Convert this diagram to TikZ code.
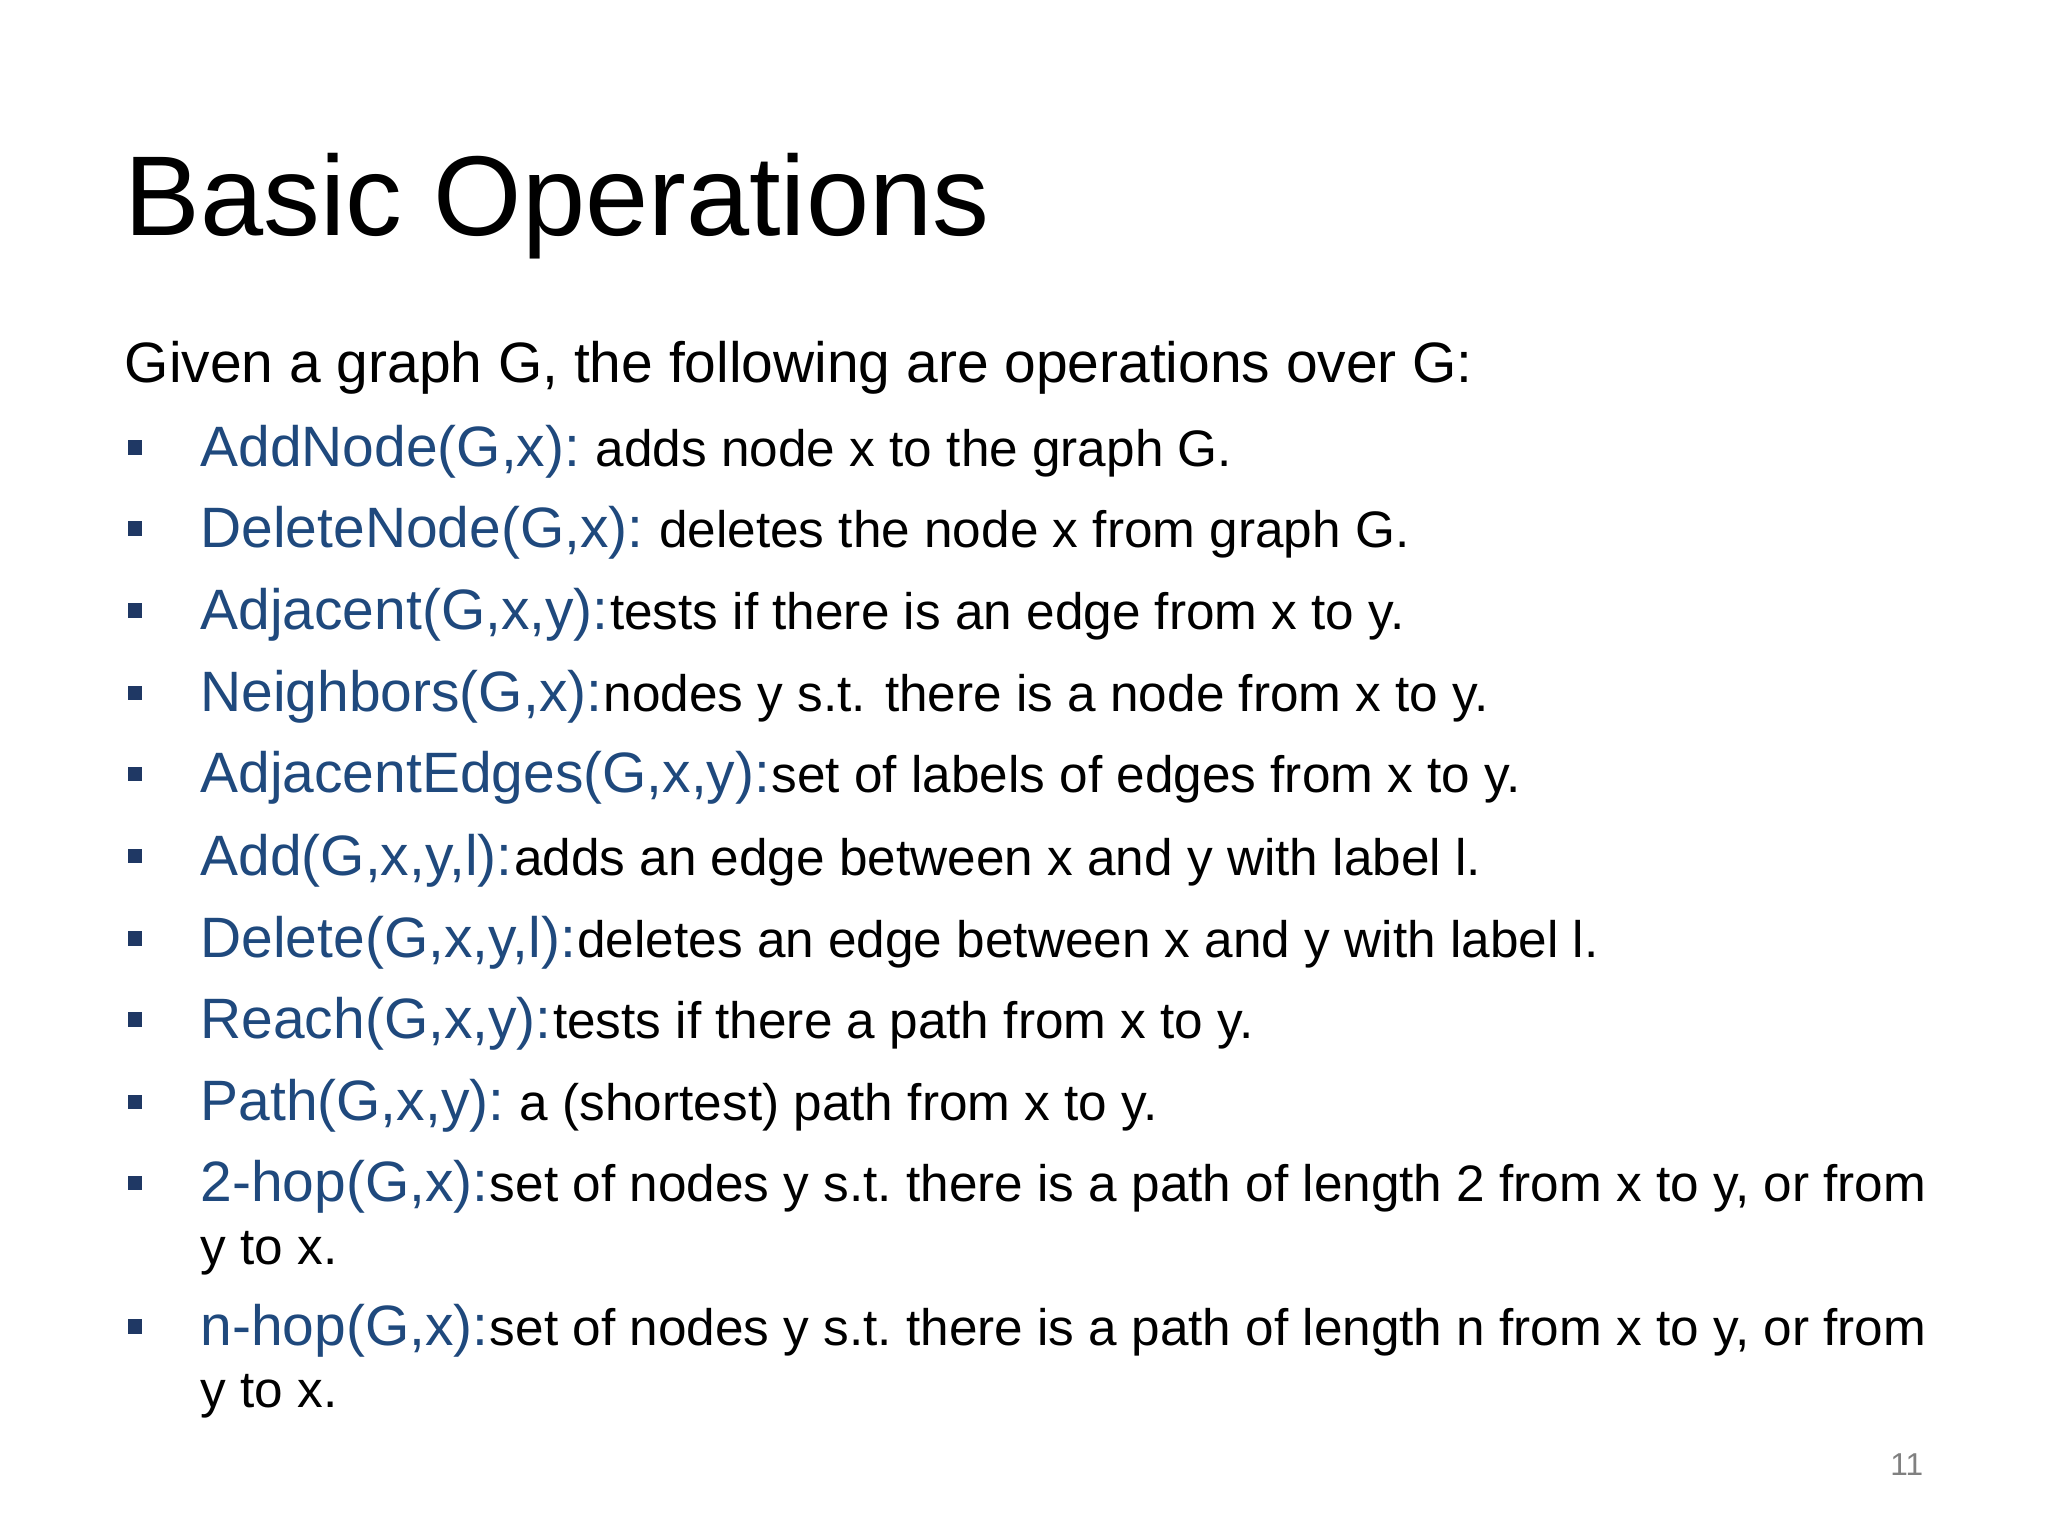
\documentclass[tikz,border=0pt]{standalone}
\usepackage{fontspec}
\setmainfont{Liberation Sans}
\definecolor{opblue}{RGB}{31,73,125}
\definecolor{bul}{RGB}{31,56,100}
\begin{document}
\begin{tikzpicture}[x=0.01306cm,y=-0.01306cm,
  txt/.style={anchor=base west,inner sep=0pt,font=\fontsize{16.2pt}{20pt}\selectfont},
  dsc/.style={anchor=base west,inner sep=0pt,font=\fontsize{14.6pt}{18pt}\selectfont},
  bul/.style={fill=bul,draw=none}]
\useasboundingbox (0,0) rectangle (1568,1176);
\node[anchor=base west,inner sep=0pt,font=\fontsize{32.3pt}{38pt}\selectfont] (title) at (95,180) {Basic Operations};
\node[txt] (intro) at (95,293) {Given a graph G, the following are operations over G:};
\foreach \a/\b/\yy [count=\i] in {
{AddNode(G,x):}/{\ adds node x to the graph G.}/357,
{DeleteNode(G,x):}/{\ deletes the node x from graph G.}/419,
{Adjacent(G,x,y):}/{tests if there is an edge from x to y.}/482,
{Neighbors(G,x):}/{nodes y s.t. there is a node from x to y.}/545,
{AdjacentEdges(G,x,y):}/{set of labels of edges from x to y.}/607,
{Add(G,x,y,l):}/{adds an edge between x and y with label l.}/670,
{Delete(G,x,y,l):}/{deletes an edge between x and y with label l.}/733,
{Reach(G,x,y):}/{tests if there a path from x to y.}/795,
{Path(G,x,y):}/{\ a (shortest) path from x to y.}/858,
{2-hop(G,x):}/{set of nodes y s.t.\ there is a path of length 2 from x to y, or from}/920,
{n-hop(G,x):}/{set of nodes y s.t.\ there is a path of length n from x to y, or from}/1030} {
  \fill[bul] (98,\yy-20) rectangle ++(11,11);
  \node[txt,text=opblue] (op\i) at (153,\yy) {\a};
  \node[dsc] (d\i) at (op\i.base east) {\b};
}
\node[dsc] (c1) at (153,968) {y to x.};
\node[dsc] (c2) at (153,1078) {y to x.};
\node[anchor=base east,inner sep=0pt,text=gray,font=\fontsize{9pt}{11pt}\selectfont] (pg) at (1473,1130) {11};
\end{tikzpicture}
\end{document}
